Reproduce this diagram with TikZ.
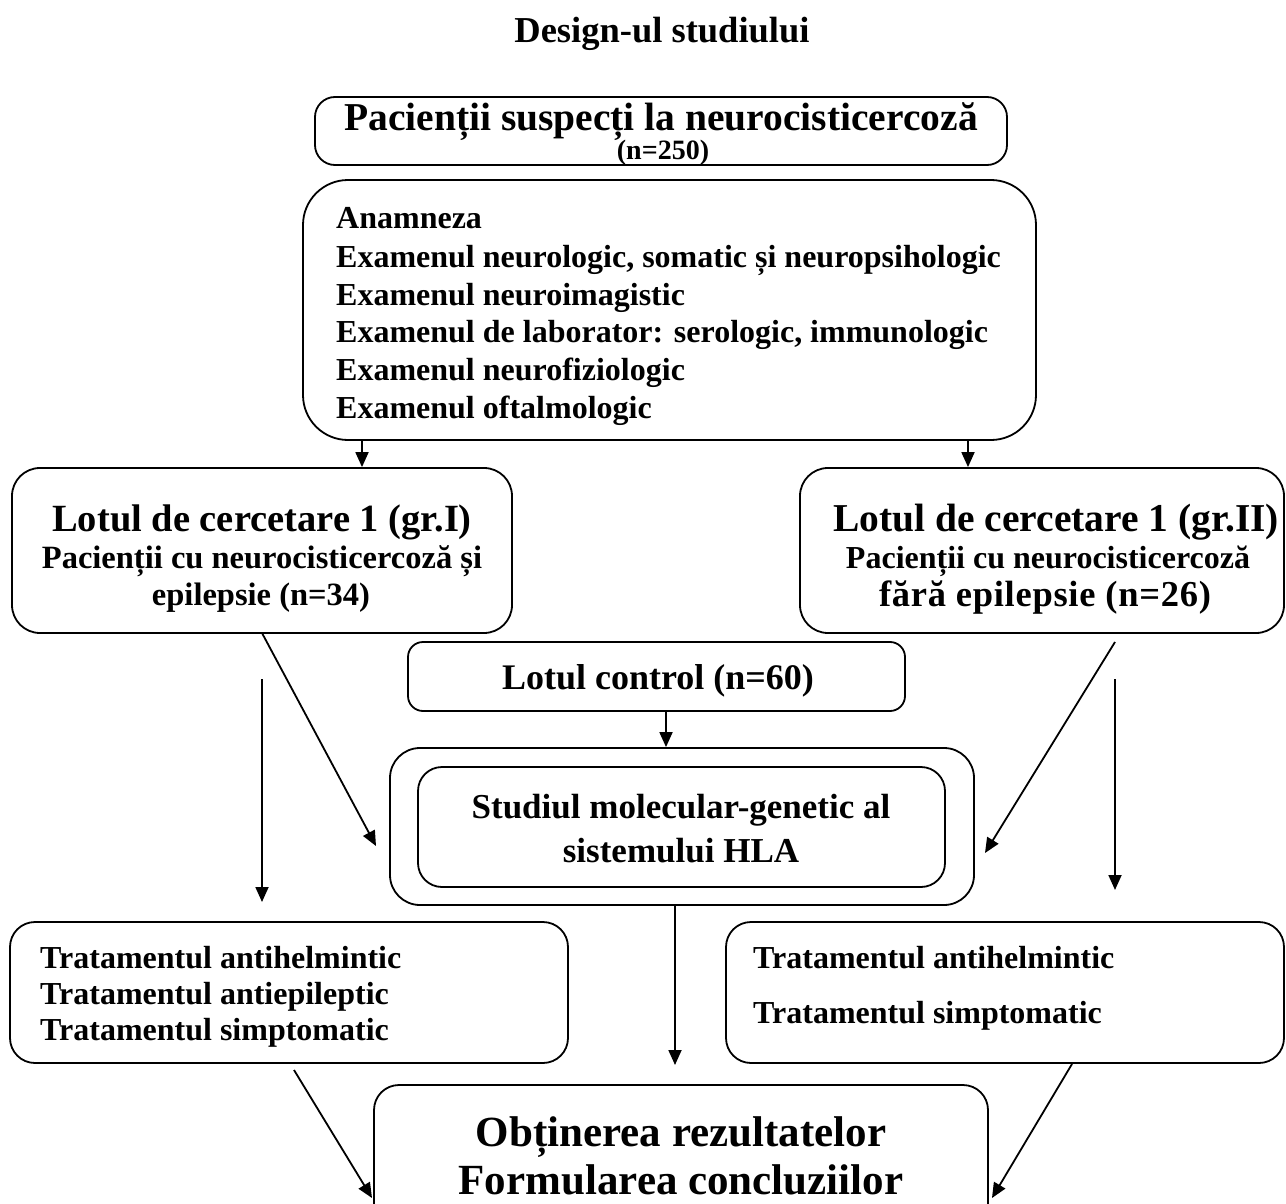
\documentclass[tikz,border=0pt]{standalone}
\usepackage{fontspec}
\setmainfont{Liberation Serif}
\usetikzlibrary{arrows.meta}
\begin{document}
\begin{tikzpicture}[x=1pt,y=-1pt,
  box/.style={draw, line width=1.8pt, rounded corners=#1, inner sep=0pt},
  box/.default=20pt,
  arr/.style={line width=1.8pt, -{Triangle[length=15pt,width=13pt]}},
  txt/.style={inner sep=0pt, anchor=base},
  ltxt/.style={inner sep=0pt, anchor=base west}]
\useasboundingbox (0,0) rectangle (1286,1204);
\clip (0,0) rectangle (1286,1204);
\fill[white] (0,0) rectangle (1286,1204);

% title
\node[txt, font=\fontsize{36.5}{42}\selectfont\bfseries] (title) at (662,43) {Design-ul studiului};

% box 1
\node[box=20pt, minimum width=692pt, minimum height=68pt] (b1) at (661,131) {};
\node[txt, font=\fontsize{39.5}{45}\selectfont\bfseries] (b1a) at (661,131) {Pacienții suspecți la neurocisticercoză};
\node[txt, font=\fontsize{28}{32}\selectfont\bfseries] (b1b) at (663,159.5) {(n=250)};

% box 2
\node[box=45pt, minimum width=733pt, minimum height=260pt] (b2) at (669.5,310) {};
\begin{scope}[every node/.style={ltxt, font=\fontsize{32}{36}\selectfont\bfseries}]
\node (e1) at (336,228) {Anamneza};
\node (e2) at (336,267) {Examenul neurologic, somatic și neuropsihologic};
\node (e3) at (336,305) {Examenul neuroimagistic};
\node (e4) at (336,342) {Examenul de laborator: serologic, immunologic};
\node (e5) at (336,380) {Examenul neurofiziologic};
\node (e6) at (336,418) {Examenul oftalmologic};
\end{scope}

% group boxes
\node[box=28pt, minimum width=500pt, minimum height=165pt] (gL) at (262,550.5) {};
\node[txt, font=\fontsize{38.5}{44}\selectfont\bfseries] (gLa) at (262,531) {Lotul de cercetare 1 (gr.I)};
\node[txt, font=\fontsize{32.5}{37}\selectfont\bfseries] (gLb) at (262,568) {Pacienții cu neurocisticercoză și};
\node[txt, font=\fontsize{32.5}{37}\selectfont\bfseries] (gLc) at (261,605) {epilepsie (n=34)};

\node[box=28pt, minimum width=484pt, minimum height=165pt] (gR) at (1042,550.5) {};
\node[txt, font=\fontsize{39.5}{45}\selectfont\bfseries] (gRa) at (1056,531) {Lotul de cercetare 1 (gr.II)};
\node[txt, font=\fontsize{32}{37}\selectfont\bfseries] (gRb) at (1048,568) {Pacienții cu neurocisticercoză};
\node[txt, font=\fontsize{36.5}{42}\selectfont\bfseries\addfontfeature{LetterSpace=2}] (gRc) at (1045,606) {fără epilepsie (n=26)};

% control
\node[box=15pt, minimum width=497pt, minimum height=69pt] (ctrl) at (656.5,676.5) {};
\node[txt, font=\fontsize{36}{41}\selectfont\bfseries] (ctrlt) at (658,689) {Lotul control (n=60)};

% HLA study
\node[box=30pt, minimum width=584pt, minimum height=157pt] (outer) at (682,826.5) {};
\node[box=24pt, minimum width=527pt, minimum height=120pt] (inner) at (681.5,827) {};
\node[txt, font=\fontsize{35}{40}\selectfont\bfseries] (hla1) at (681,818) {Studiul molecular-genetic al};
\node[txt, font=\fontsize{35}{40}\selectfont\bfseries] (hla2) at (681,862) {sistemului HLA};

% treatments
\node[box=25pt, minimum width=558pt, minimum height=141pt] (tL) at (289,992.5) {};
\begin{scope}[every node/.style={ltxt, font=\fontsize{32}{36}\selectfont\bfseries}]
\node (tL1) at (40,968) {Tratamentul antihelmintic};
\node (tL2) at (40,1004) {Tratamentul antiepileptic};
\node (tL3) at (40,1040) {Tratamentul simptomatic};
\end{scope}
\node[box=25pt, minimum width=558pt, minimum height=141pt] (tR) at (1005,992.5) {};
\begin{scope}[every node/.style={ltxt, font=\fontsize{32}{36}\selectfont\bfseries}]
\node (tR1) at (753,968) {Tratamentul antihelmintic};
\node (tR2) at (753,1023) {Tratamentul simptomatic};
\end{scope}

% final
\node[box=25pt, minimum width=614pt, minimum height=155pt] (fin) at (681,1162.5) {};
\node[txt, font=\fontsize{43}{49}\selectfont\bfseries] (fin1) at (681,1146) {Obținerea rezultatelor};
\node[txt, font=\fontsize{43}{49}\selectfont\bfseries] (fin2) at (681,1194) {Formularea concluziilor};

% coordinates for connectors
\coordinate (xL) at (362,0);
\coordinate (xR) at (968,0);
\coordinate (xC) at (666,0);
\coordinate (dLs) at (262,633);
\coordinate (dLe) at (376,846);
\coordinate (vLs) at (262,679);
\coordinate (vLe) at (262,902);
\coordinate (dRs) at (1115,642);
\coordinate (dRe) at (985,853);
\coordinate (vRs) at (1115,679);
\coordinate (vRe) at (1115,890);
\coordinate (cS) at (675,0);
\coordinate (cE) at (675,1065);
\coordinate (bLs) at (294,1070);
\coordinate (bLe) at (372,1198);
\coordinate (bRs) at (1072,1064);
\coordinate (bRe) at (992,1198);

% connectors
\draw[arr] (b2.south -| xL) -- (gL.north -| xL);
\draw[arr] (b2.south -| xR) -- (gR.north -| xR);
\draw[arr] (ctrl.south -| xC) -- (outer.north -| xC);
\draw[arr] (dLs) -- (dLe);
\draw[arr] (vLs) -- (vLe);
\draw[arr] (dRs) -- (dRe);
\draw[arr] (vRs) -- (vRe);
\draw[arr] (outer.south -| cS) -- (cE);
\draw[arr] (bLs) -- (bLe);
\draw[arr] (bRs) -- (bRe);
\end{tikzpicture}
\end{document}
